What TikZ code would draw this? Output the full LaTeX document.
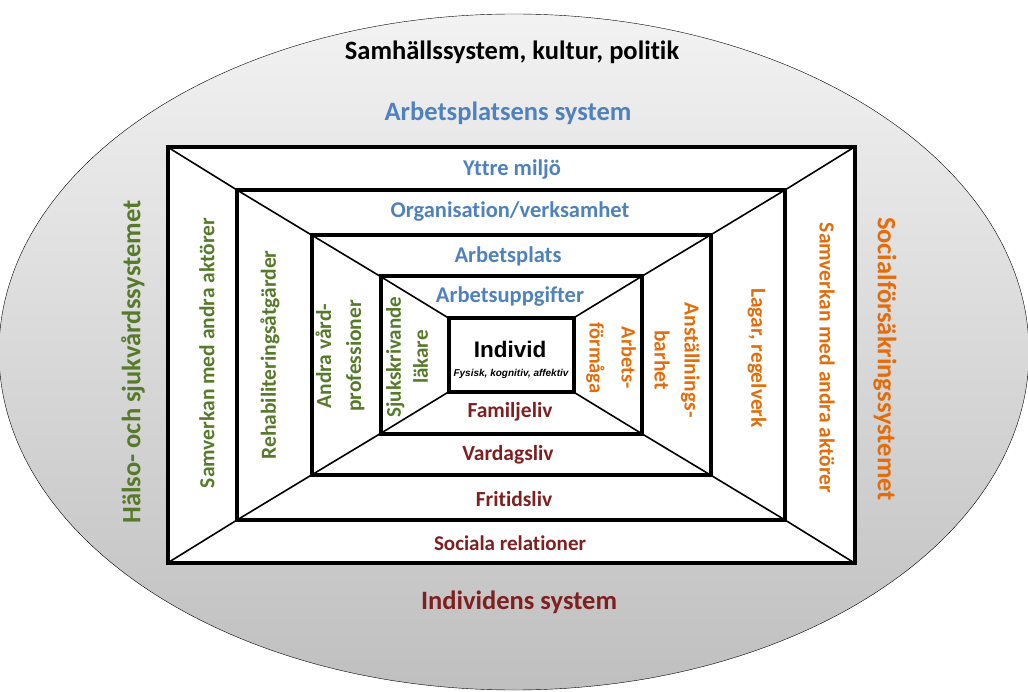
\documentclass[tikz,border=0pt]{standalone}
\usepackage{fontspec}
\setmainfont{Carlito}[Ligatures=NoCommon]
\newfontfamily\arialfont{Liberation Sans}
\usetikzlibrary{positioning}
\definecolor{workblue}{HTML}{4F81BD}
\definecolor{careolive}{HTML}{577A2A}
\definecolor{insorange}{HTML}{E46C0A}
\definecolor{lifered}{HTML}{7F1F1F}

\begin{document}
\begin{tikzpicture}[
    x=1pt, y=-1pt,
    frame/.style={draw, line width=4pt, fill=white, outer sep=0pt, inner sep=0pt},
    diag/.style={line width=1.6pt},
    big/.style={font=\bfseries\fontsize{26.5}{30}\selectfont, inner sep=0pt},
    lbl/.style={font=\bfseries\fontsize{21.5}{30}\selectfont, inner sep=0pt, align=center},
    wide/.style={font=\bfseries\fontsize{22.5}{26}\selectfont, inner sep=0pt},
    small/.style={font=\bfseries\fontsize{21.5}{24}\selectfont, inner sep=0pt}
  ]
  \useasboundingbox (0,0) rectangle (1028,692);

  % Society
  \shadedraw[top color=gray!10, bottom color=gray!50, draw=black, thin] (514,352) ellipse [x radius=515pt, y radius=338pt];

  % Nested frames
  \node[frame, minimum width=687pt, minimum height=416pt] (r1) at (511,355) {};
  \node[frame, minimum width=548pt, minimum height=330pt] (r2) at (511,355) {};
  \node[frame, minimum width=399pt, minimum height=240pt] (r3) at (511,355) {};
  \node[frame, minimum width=261pt, minimum height=157pt] (r4) at (511,355) {};
  \node[frame, minimum width=125pt, minimum height=74pt] (r5) at (511,355) {};

  \foreach \a/\b in {r1/r2, r2/r3, r3/r4, r4/r5}
    \foreach \c in {north west, north east, south west, south east}
      \draw[diag] (\a.\c) -- (\b.\c);

  % Top: society and workplace
  \node[big] (samhalle) at (512,52) {Samhällssystem, kultur, politik};
  \node[big, text=workblue] (arbsys) at (508,113) {Arbetsplatsens system};
  \node[wide, text=workblue] (yttre) at (512,170) {Yttre miljö};
  \node[wide, text=workblue] (org) at (510,212) {Organisation/verksamhet};
  \node[wide, text=workblue] (arbplats) at (508,256) {Arbetsplats};
  \node[wide, text=workblue] (uppg) at (510,297) {Arbetsuppgifter};

  % Centre
  \node[font=\arialfont\bfseries\fontsize{22.5}{26}\selectfont, inner sep=0pt] (individ) at (510,349) {Individ};
  \node[font=\arialfont\bfseries\itshape\fontsize{10}{12}\selectfont, inner sep=0pt] (dim) at (511,374) {Fysisk, kognitiv, affektiv};

  % Bottom: individual
  \node[small, text=lifered] (famlj) at (510,412) {Familjeliv};
  \node[small, text=lifered] (vardag) at (508,455) {Vardagsliv};
  \node[small, text=lifered] (fritid) at (514,499) {Fritidsliv};
  \node[small, text=lifered, font=\bfseries\fontsize{21}{24}\selectfont] (sociala) at (510,543) {Sociala relationer};
  \node[big, text=lifered] (indsys) at (519,602) {Individens system};

  % Left: health care
  \node[big, text=careolive, rotate=90] (halso) at (133,362) {Hälso- och sjukvårdssystemet};
  \node[lbl, text=careolive, rotate=90] (samv1) at (207,353) {Samverkan med andra aktörer};
  \node[lbl, text=careolive, rotate=90] (rehab) at (270,355) {Rehabiliteringsåtgärder};
  \node[lbl, text=careolive, rotate=90] (andra) at (340,356) {Andra vård-\\professioner};
  \node[lbl, text=careolive, rotate=90, font=\bfseries\fontsize{21}{27}\selectfont] (sjuk) at (407,357) {Sjukskrivande\\läkare};

  % Right: social insurance
  \node[lbl, text=insorange, rotate=-90, font=\bfseries\fontsize{20.5}{32}\selectfont] (formaga) at (611,358) {Arbets-\\förmåga};
  \node[lbl, text=insorange, rotate=-90] (anst) at (677,360) {Anställnings-\\barhet};
  \node[lbl, text=insorange, rotate=-90] (lagar) at (757,358) {Lagar, regelverk};
  \node[lbl, text=insorange, rotate=-90] (samv2) at (827,358) {Samverkan med andra aktörer};
  \node[big, text=insorange, rotate=-90] (social) at (885,359) {Socialförsäkringssystemet};
\end{tikzpicture}
\end{document}
